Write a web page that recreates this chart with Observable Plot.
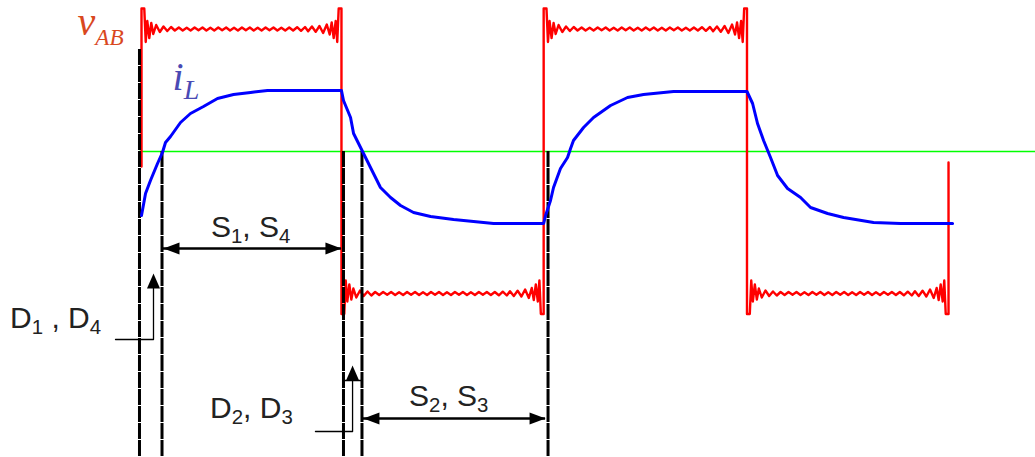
<!DOCTYPE html>
<html><head><meta charset="utf-8">
<script src="https://cdn.jsdelivr.net/npm/d3@7"></script>
<script src="https://cdn.jsdelivr.net/npm/@observablehq/plot@0.6"></script>
<style>html,body{margin:0;padding:0;background:#fff;overflow:hidden}</style>
</head><body><div id="chart"></div>
<script>
// ---- data (x: electrical angle in degrees, y: normalised amplitude, green line = 0) ----
const edgeAngle = [0, 178.4, 358.8, 540.2, 720];          // switching instants of v_AB
const vHigh = 1.225, vLow = -1.42, vStart = -0.15, vEnd = -0.11;
const rippleAngle = [0, 2.5, 3.8, 5.2, 7.0, 8.8, 10.6, 13.2, 16.5, 19.8, 23.2, 26.6,
  30.0, 33.6, 37.1, 40.7, 44.2, 47.8, 51.3, 54.9, 58.4, 62.0, 65.5, 69.1, 72.6, 76.2, 79.7, 83.3,
  86.8, 90.4, 93.9, 97.5, 101.0, 104.6, 108.1, 111.7, 115.2, 118.8, 122.3, 125.9, 129.4, 133.0,
  136.5, 140.1, 143.6, 147.2,
  150.0, 153.4, 156.8, 160.2, 163.5, 166.8, 169.4, 171.2, 173.0, 174.8, 176.2, 177.5, 180];
const rippleOvershoot = [0.205, 0.205, -0.13, 0.08, -0.09, 0.06, -0.05, 0.04, -0.03, 0.025, -0.02, 0.02,
  -0.015, 0.015, -0.015, 0.012, -0.015, 0.015, -0.012, 0.015, -0.015, 0.012, -0.015, 0.015, -0.012, 0.015, -0.015, 0.012,
  -0.015, 0.015, -0.012, 0.015, -0.015, 0.012, -0.015, 0.015, -0.012, 0.015, -0.015, 0.012, -0.015, 0.015,
  -0.015, 0.018, -0.018, 0.02,
  -0.022, 0.025, -0.028, 0.03, -0.04, 0.045, -0.055, 0.065, -0.09, 0.08, -0.13, 0.205, 0.205];

const iAngle = [0, 3.6, 8.0, 14.3, 18.7, 21.4, 25.9, 34.8, 43.7, 55.3, 67.8, 82.1, 97.3, 112.4, 178.4,
  180.2, 186.5, 189.2, 197.2, 204.3, 213.2, 222.2, 231.1, 242.7, 257.9, 278.4, 314.1, 358.8,
  360.5, 364.9, 367.6, 373.8, 380.1, 382.8, 385.4, 394.4, 403.3, 418.5, 433.6, 447.9, 474.7, 540.2,
  545.2, 549.6, 555.0, 561.2, 567.5, 576.4, 588.0, 596.9, 612.1, 626.4, 653.1, 677.2, 723.6];
const iValue = [-0.64, -0.42, -0.29, -0.12, -0.01, 0.09, 0.15, 0.29, 0.38, 0.45, 0.53, 0.57, 0.59, 0.61, 0.61,
  0.51, 0.34, 0.18, 0.00, -0.16, -0.36, -0.46, -0.54, -0.61, -0.65, -0.68, -0.72, -0.72,
  -0.64, -0.49, -0.36, -0.17, -0.06, 0.03, 0.11, 0.24, 0.34, 0.46, 0.54, 0.57, 0.60, 0.60,
  0.48, 0.28, 0.11, -0.06, -0.24, -0.37, -0.46, -0.56, -0.62, -0.66, -0.71, -0.72, -0.72];

// instants where conduction changes (device intervals)
const markAngle = [-1.8, 18.3, 180.2, 196.7, 362.7];
const markTop = [1.02, 0, 0, 0, 0];

// labels
const labelText = ["v{AB}", "i{L}", "S{1}, S{4}", "S{2}, S{3}", "D{1} , D{4}", "D{2}, D{3}"];
const labelAngle = [-57.1, 27.7, 62.0, 238.7, -117.3, 61.2];
const labelValue = [1.17, 0.62, -0.85, -2.54, -1.76, -2.66];

// ---- build tables ----
const vAB = [{a: 0, v: vStart}];
for (let k = 0; k < 4; k++) {
  const level = k % 2 === 0 ? vHigh : vLow, sign = k % 2 === 0 ? 1 : -1;
  const span = (edgeAngle[k + 1] - edgeAngle[k]) / 180;
  rippleAngle.forEach((d, j) => vAB.push({a: edgeAngle[k] + d * span, v: level + sign * rippleOvershoot[j]}));
}
vAB.push({a: edgeAngle[4], v: vEnd});
const iL = iAngle.map((a, j) => ({a, v: iValue[j]}));
const marks = markAngle.map((a, j) => ({a, top: markTop[j]}));
const labels = labelText.map((t, j) => ({t, a: labelAngle[j], v: labelValue[j]}));

const yBottom = -3.06, yTop = 1.51;
const xLeft = -125.8, xRight = 797.6;

// arrow heads (tip at origin)
const headUp = {draw(c) { c.moveTo(0, 0); c.lineTo(6.5, 15); c.lineTo(-6.5, 15); c.closePath(); }};
const headLeft = {draw(c) { c.moveTo(0, 0); c.lineTo(16, -6); c.lineTo(16, 6); c.closePath(); }};
const headRight = {draw(c) { c.moveTo(0, 0); c.lineTo(-16, -6); c.lineTo(-16, 6); c.closePath(); }};

// interval arrows between conduction instants
const s14 = {a1: markAngle[1] + 1.3, a2: markAngle[2] - 1.8, v: -0.97};
const s23 = {a1: markAngle[3] + 1.3, a2: markAngle[4] - 2.2, v: -2.67};
const d14 = {a0: -23.2, a: 10.7, v0: -1.88, tip: -1.22};
const d23 = {a0: 155.2, a: 188.3, v0: -2.80, tip: -2.14, bar: -2.29};

const sans = "'Liberation Sans', Arial, sans-serif";
const serif = "'Liberation Serif', 'Times New Roman', serif";

const svg = Plot.plot({
  width: 1035, height: 457,
  marginLeft: 0, marginRight: 0, marginTop: 0, marginBottom: 0,
  x: {domain: [xLeft, xRight], axis: null},
  y: {domain: [yBottom, yTop], axis: null},
  style: {background: "#fff"},
  marks: [
    Plot.ruleY([0], {x1: markAngle[0], x2: xRight, stroke: "#00ff00", strokeWidth: 1.6}),
    Plot.line(vAB, {x: "a", y: "v", stroke: "#ff0000", strokeWidth: 2.4}),
    Plot.ruleX(marks, {x: "a", y1: "top", y2: yBottom, stroke: "#000", strokeWidth: 3, strokeDasharray: "16,1"}),
    Plot.line(iL, {x: "a", y: "v", stroke: "#0000ff", strokeWidth: 3}),
    // S arrows
    Plot.ruleY([s14], {x1: "a1", x2: "a2", y: "v", stroke: "#000", strokeWidth: 2.5}),
    Plot.ruleY([s23], {x1: "a1", x2: "a2", y: "v", stroke: "#000", strokeWidth: 2.5}),
    Plot.dot([s14, s23], {x: "a1", y: "v", symbol: headLeft, fill: "#000", stroke: "none"}),
    Plot.dot([s14, s23], {x: "a2", y: "v", symbol: headRight, fill: "#000", stroke: "none"}),
    // D markers
    Plot.line([{a: d14.a0, v: d14.v0}, {a: d14.a, v: d14.v0}, {a: d14.a, v: d14.tip - 0.1}], {x: "a", y: "v", stroke: "#000", strokeWidth: 1.3}),
    Plot.line([{a: d23.a0, v: d23.v0}, {a: d23.a, v: d23.v0}, {a: d23.a, v: d23.tip - 0.1}], {x: "a", y: "v", stroke: "#000", strokeWidth: 1.3}),
    Plot.ruleY([d23], {x1: markAngle[2], x2: markAngle[3], y: "bar", stroke: "#000", strokeWidth: 1.5}),
    Plot.dot([d14, d23], {x: "a", y: "tip", symbol: headUp, fill: "#000", stroke: "none"}),
    // labels
    Plot.text(labels.slice(0, 1), {x: "a", y: "v", text: "t", textAnchor: "start", lineAnchor: "bottom",
      fontFamily: serif, fontStyle: "italic", fontSize: 40, fill: "#d9481e"}),
    Plot.text(labels.slice(1, 2), {x: "a", y: "v", text: "t", textAnchor: "start", lineAnchor: "bottom",
      fontFamily: serif, fontStyle: "italic", fontSize: 40, fill: "#4a4ab4"}),
    Plot.text(labels.slice(2), {x: "a", y: "v", text: "t", textAnchor: "start", lineAnchor: "bottom",
      fontFamily: sans, fontSize: 30, fill: "#222"})
  ]
});

// subscripts: text written as X{sub}
const subStyle = {"v{AB}": [0.58, 10], "i{L}": [0.7, 9]};
const NS = "http://www.w3.org/2000/svg";
svg.querySelectorAll("text").forEach(t => {
  const raw = t.textContent;
  if (!raw.includes("{")) return;
  const g = t.closest("[font-size]");
  const fs = parseFloat(g ? g.getAttribute("font-size") : 30);
  const [ratio, shift] = subStyle[raw] || [0.68, 6.5];
  t.textContent = "";
  t.style.whiteSpace = "pre";
  let down = false;
  raw.split(/(\{[^}]*\})/).filter(Boolean).forEach(p => {
    const ts = document.createElementNS(NS, "tspan");
    if (p.startsWith("{")) {
      ts.textContent = p.slice(1, -1);
      ts.setAttribute("font-size", fs * ratio);
      ts.setAttribute("dy", shift);
      down = true;
    } else {
      ts.textContent = p;
      if (down) { ts.setAttribute("dy", -shift); down = false; }
    }
    t.appendChild(ts);
  });
});
document.getElementById("chart").appendChild(svg);
</script></body></html>
